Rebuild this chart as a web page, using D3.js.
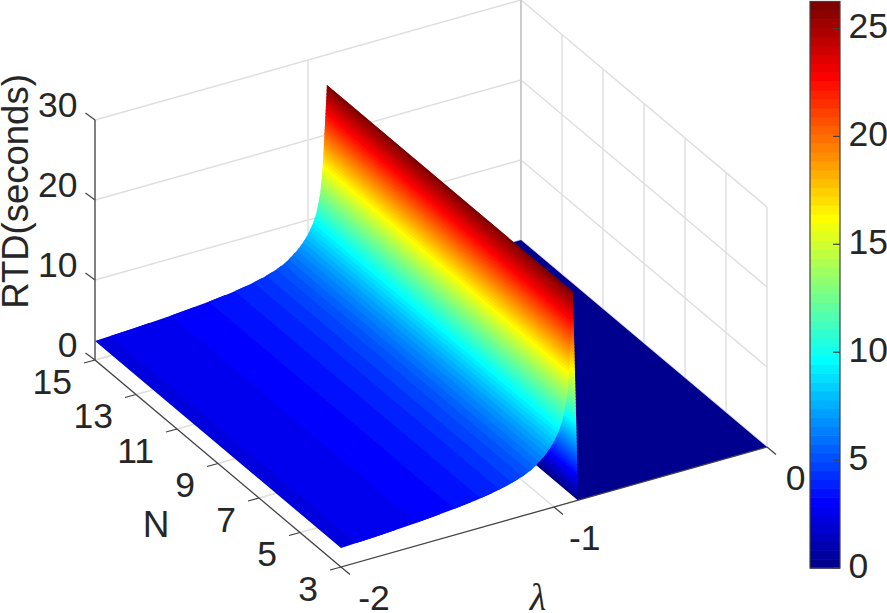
<!DOCTYPE html>
<html><head><meta charset="utf-8">
<script src="https://cdnjs.cloudflare.com/ajax/libs/d3/7.8.5/d3.min.js"></script>
<style>html,body{margin:0;padding:0;background:#fff}svg{display:block}text{font-family:"Liberation Sans",Arial,sans-serif;fill:#262626}</style>
</head><body><svg id="c" width="887" height="613"></svg>
<script>
// ---- data ----
const lambdaProfile = [-2,-1.82,-1.648,-1.476,-1.366,-1.272,-1.21,-1.15,-1.11,-1.085,-1.05,-1.022,-1.0,-0.98,-0.962,-0.95,-0.942,-0.934,-0.928,-0.923,-0.917,-0.911];
const rtdProfile    = [2.38,2.58,2.86,3.25,3.6,4.0,4.4,4.9,5.4,5.85,6.6,7.4,8.2,9.2,10.4,11.8,13,15,17.2,20,23,26.2];
const wallLambda = [-0.911,-0.887];
const wallRtd    = [26.2,0];
const floorLambda = [-0.887,0];
const lambdaTicks = [-2,-1,0];
const nTicks = [3,5,7,9,11,13,15];
const rtdTicks = [0,10,20,30];
const barTicks = [0,5,10,15,20,25];
const colorMax = 26.25, levels = 64;

const svg = d3.select("#c");
const gridCol = "#dedede";

// ---- oblique projection: three linear scales, one per axis ----
const lamX = d3.scaleLinear().domain([-2,0]).range([341,767]);
const lamY = d3.scaleLinear().domain([-2,0]).range([567,447]);
const nX   = d3.scaleLinear().domain([3,15]).range([0,-246]);
const nY   = d3.scaleLinear().domain([3,15]).range([0,-207]);
const zY   = d3.scaleLinear().domain([0,30]).range([0,-240]);
const P = (l,n,z) => [lamX(l)+nX(n), lamY(l)+nY(n)+zY(z)];
const path = pts => "M"+pts.map(p=>p[0].toFixed(2)+","+p[1].toFixed(2)).join("L")+"Z";
const seg = (g,a,b,col,w) => g.append("line").attr("x1",a[0]).attr("y1",a[1]).attr("x2",b[0]).attr("y2",b[1]).attr("stroke",col).attr("stroke-width",w);

// ---- jet colormap ----
const jR = d3.scaleLinear().domain([23,39,55,63]).range([0,1,1,0.5]).clamp(true);
const jG = d3.scaleLinear().domain([7,23,39,55]).range([0,1,1,0]).clamp(true);
const jB = d3.scaleLinear().domain([0,7,23,39]).range([0.5625,1,1,0]).clamp(true);
const jet = i => d3.rgb(jR(i)*255,jG(i)*255,jB(i)*255).formatHex();
const levelOf = d3.scaleLinear().domain([0,colorMax]).range([0,levels]);

// ---- grid ----
const grid = svg.append("g");
const [nA,nB] = d3.extent(nTicks), [zA,zB] = d3.extent(rtdTicks), [lA,lB] = d3.extent(lambdaTicks);
rtdTicks.forEach(z=>{ seg(grid,P(lA,nB,z),P(lB,nB,z),gridCol,1.4); seg(grid,P(lB,nA,z),P(lB,nB,z),gridCol,1.4); });
lambdaTicks.forEach(l=>{ seg(grid,P(l,nB,zA),P(l,nB,zB),gridCol,1.4); seg(grid,P(l,nA,zA),P(l,nB,zA),gridCol,1.4); });
nTicks.forEach(n=>{ seg(grid,P(lB,n,zA),P(lB,n,zB),gridCol,1.4); seg(grid,P(lA,n,zA),P(lB,n,zA),gridCol,1.4); });
seg(grid,P(lB,nB,zA),P(lB,nB,zB),"#c4c4c4",1.4);

// ---- surface: one strip per colormap level, clipped to the profile ----
const surf = svg.append("g");
function strips(g, ls, zs){
  const zToL = d3.scaleLinear().domain(zs).range(ls);
  const zLo = zs[0], zHi = zs[zs.length-1];
  d3.range(levels).forEach(i=>{
    const a = Math.max(levelOf.invert(i),zLo), b = Math.min(levelOf.invert(i+1.6),zHi);
    if (a>=zHi || b<=zLo || a>=b) return;
    const inner = zs.map((z,k)=>[ls[k],z]).filter(d=>d[1]>a&&d[1]<b);
    const line = [[zToL(a),a],...inner,[zToL(b),b]];
    const front = line.map(d=>P(d[0],nA,d[1]));
    const back  = line.map(d=>P(d[0],nB,d[1])).reverse();
    g.append("path").attr("d",path(front.concat(back))).attr("fill",jet(i));
  });
}
// floor beyond the wall
surf.append("path").attr("fill",jet(0)).attr("d",path([
  P(floorLambda[0],nA,0),P(floorLambda[1],nA,0),P(floorLambda[1],nB,0),P(floorLambda[0],nB,0)]));
// wall, then the rising sheet in front of it
strips(surf.append("g"), wallLambda.slice().reverse(), wallRtd.slice().reverse());
strips(surf.append("g"), lambdaProfile, rtdProfile);

// ---- axis rulers ----
const ax = svg.append("g");
const axisCol = "#404040";
seg(ax,P(lA,nB,zA),P(lA,nB,zB),"#555",1.4);
seg(ax,P(lA,nA,0),P(lA,nB,0),axisCol,1.2);
seg(ax,P(lA,nA,0),P(lB,nA,0),axisCol,1.2);
rtdTicks.forEach(z=>{const p=P(lA,nB,z); seg(ax,p,[p[0]-9.5,p[1]-7],axisCol,1.2);});
nTicks.forEach(n=>{const p=P(lA,n,0); seg(ax,p,[p[0]-11,p[1]+3],axisCol,1.2);});
lambdaTicks.forEach(l=>{const p=P(l,nA,0); seg(ax,p,[p[0]+9,p[1]+7.5],axisCol,1.2);});

// ---- tick labels ----
const fs = 35.5, base = 12.5;
const lab = (x,y,t,anchor) => svg.append("text").attr("x",x).attr("y",y).attr("text-anchor",anchor).attr("font-size",fs).text(t);
const lamDx = d3.scaleLinear().domain([-2,0]).range([33,28.5]);
rtdTicks.forEach(z=>{const p=P(lA,nB,z); lab(p[0]-17.5,p[1]-15.5+base,z,"end");});
nTicks.forEach(n=>{const p=P(lA,n,0); lab(p[0]-23,p[1]+21+base,n,"end");});
lambdaTicks.forEach(l=>{const p=P(l,nA,0); lab(p[0]+lamDx(l),p[1]+30+base,l,"middle");});

svg.append("text").attr("x",156).attr("y",537).attr("text-anchor","middle").attr("font-size",37).text("N");
svg.append("text").attr("x",538).attr("y",610).attr("text-anchor","middle").attr("font-size",38)
  .style("font-family","'Liberation Serif',serif").style("font-style","italic").text("λ");
svg.append("text").attr("transform","translate(28,191.5) rotate(-90)").attr("text-anchor","middle").attr("font-size",36.5).text("RTD(seconds)");

// ---- colorbar ----
const cbY = d3.scaleLinear().domain([0,colorMax]).range([568,1.5]);
const cbX0 = 810, cbX1 = 840;
const cb = svg.append("g");
cb.selectAll("rect").data(d3.range(levels)).join("rect")
  .attr("x",cbX0).attr("width",cbX1-cbX0)
  .attr("y",i=>cbY(levelOf.invert(i+1))).attr("height",i=>cbY(levelOf.invert(i))-cbY(levelOf.invert(i+1))+0.6)
  .attr("fill",i=>jet(i));
cb.append("rect").attr("x",cbX0).attr("y",cbY(colorMax)).attr("width",cbX1-cbX0).attr("height",cbY(0)-cbY(colorMax))
  .attr("fill","none").attr("stroke","#404040").attr("stroke-width",1.2);
barTicks.forEach(t=>{
  seg(cb,[cbX1-7,cbY(t)],[cbX1,cbY(t)],"#404040",1.2);
  lab(848.5,cbY(t)-3+base,t,"start");
});
</script></body></html>
